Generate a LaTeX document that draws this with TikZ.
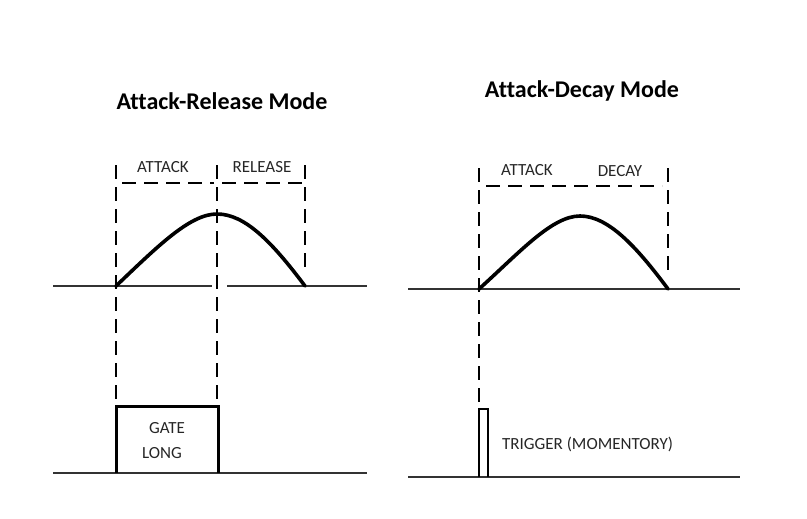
\documentclass[tikz,border=0pt]{standalone}
\usepackage{fontspec}
\setmainfont[Ligatures=CommonOff]{Carlito}
\begin{document}
\begin{tikzpicture}[x=1pt,y=-1pt,
  thin line/.style={draw=black!80,line width=1.1pt},
  dash line/.style={draw=black,line width=1.8pt,dash pattern=on 14pt off 8pt},
  wave/.style={draw=black,line width=3.6pt,line cap=round,line join=round},
  pulse/.style={draw=black,line width=3pt,line join=miter},
  title/.style={font=\fontsize{24}{28}\selectfont\bfseries,text=black},
  lab/.style={font=\fontsize{17}{20}\selectfont,text=black!85,inner sep=0pt}]
\useasboundingbox (0,0) rectangle (807,519);
% ---------- left panel ----------
\node[title] (t1) at (222,101) {Attack-Release Mode};
\draw[thin line] (53,286) -- (212,286);
\draw[thin line] (227,286) -- (367,286);
\draw[thin line] (53,473) -- (367,473);
\draw[dash line] (116,165) -- (116,402);
\draw[dash line] (217,165) -- (217,402);
\draw[dash line] (305,165) -- (305,272);
\draw[dash line] (122,183) -- (214,183);
\draw[dash line] (222,183) -- (303,183);
\node[lab] (a1) at (163,167) {ATTACK};
\node[lab] (r1) at (262,167) {RELEASE};
\draw[wave] (116,286) .. controls (158,246) and (190,214) .. (217,214)
  .. controls (245,214) and (272,242) .. (305,286);
\draw[pulse] (116,473) -- (116,406) -- (218,406) -- (218,473);
\node[lab] (g1) at (167,428) {GATE};
\node[lab] (l1) at (162,453) {LONG};
% ---------- right panel ----------
\node[title] (t2) at (582,91) {Attack-Decay Mode};
\draw[thin line] (408,289) -- (740,289);
\draw[thin line] (408,477) -- (740,477);
\draw[dash line] (479,168) -- (479,404);
\draw[dash line] (668,168) -- (668,275);
\draw[dash line] (486,186) -- (662,186);
\node[lab] (a2) at (527,170) {ATTACK};
\node[lab] (d2) at (620,171) {DECAY};
\draw[wave] (479,289) .. controls (520,252) and (552,216) .. (580,216)
  .. controls (608,216) and (636,246) .. (668,289);
\draw[draw=black,line width=2.5pt] (479,477) -- (479,409) -- (488,409) -- (488,477);
\node[lab,anchor=west] (tr) at (502,444) {TRIGGER (MOMENTORY)};
\end{tikzpicture}
\end{document}
